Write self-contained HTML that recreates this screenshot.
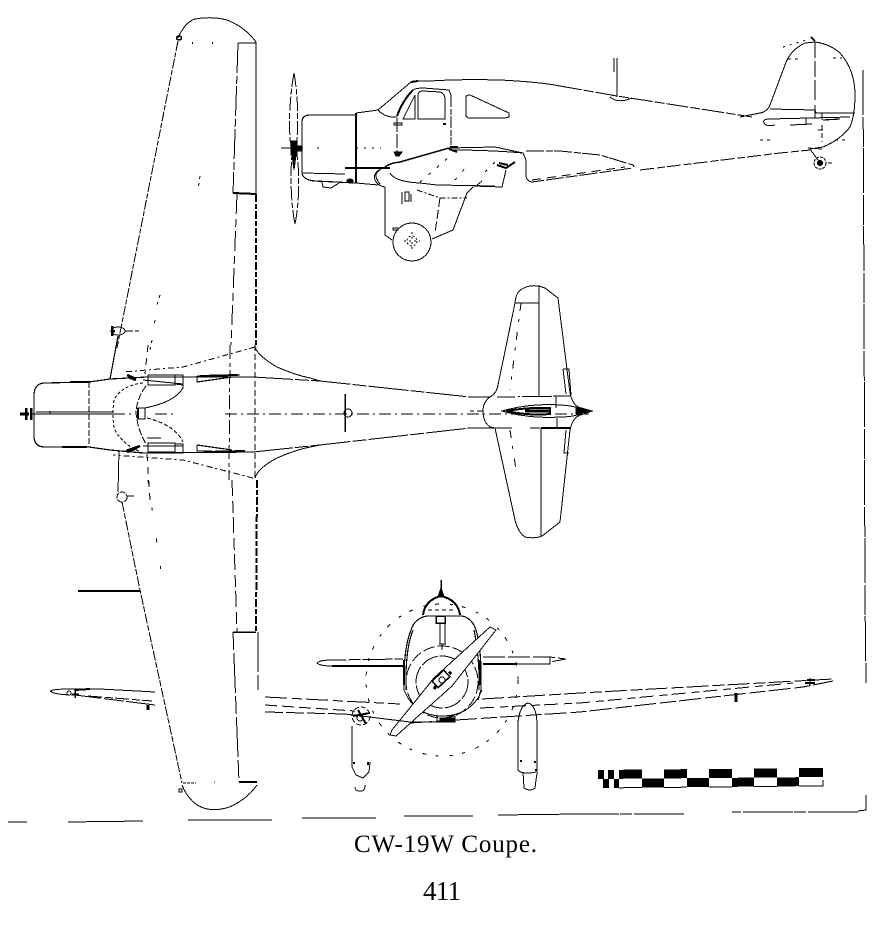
<!DOCTYPE html>
<html><head><meta charset="utf-8"><style>
html,body{margin:0;padding:0;background:#fff;width:876px;height:928px;overflow:hidden}
svg{display:block}
path,line,circle,ellipse,polygon,rect{shape-rendering:crispEdges}
text{font-family:"Liberation Serif",serif;fill:#000}
</style></head><body>
<svg width="876" height="928" viewBox="0 0 876 928" xmlns="http://www.w3.org/2000/svg">
<rect width="876" height="928" fill="#fff"/>
<g fill="none" stroke="#000" stroke-width="1">

<!-- frame -->
<path d="M863 70L864 300L865 600L866 683" stroke-dasharray="45 2 30 1"/>
<path d="M866 795L866 810L858 811"/>
<path d="M858 812L732 812M684 814L580 814" stroke-dasharray="50 2 12 1"/>
<path d="M8 822L27 822M68 822L143 821M188 820L272 820M302 818L376 818M404 816L473 816M498 815L580 814"/>

<!-- SIDE VIEW: propeller -->
<path d="M294 73C290 95 288 125 291 148M294 73C298 95 299 125 296 148M295 224C291 205 290 175 292 155M295 224C299 205 300 175 297 155" stroke-dasharray="14 2 6 2"/>
<path d="M281 148L303 148" stroke-width="1"/>
<rect x="291" y="141" width="6" height="14" fill="#000"/>
<rect x="297" y="146" width="5" height="5" fill="#000"/>
<path d="M292 155L294 170L296 155" fill="#000"/>
<!-- cowl -->
<path d="M302 122Q302 115 310 115L356 115M302 122L302 173Q303 180 315 181L356 183" stroke-width="1.2"/>
<path d="M356 113L356 183" stroke-width="2"/>
<path d="M303 173L345 174"/>
<path d="M322 182L323 187L331 188L339 183"/>
<path d="M345 168L390 168" stroke-width="2"/>
<ellipse cx="350" cy="181" rx="3" ry="2" fill="#000"/>
<path d="M356 183L378 185"/>
<path d="M317 148h2M356 148h25" stroke-dasharray="2 6"/>
<!-- fuselage top -->
<path d="M356 113L378 110L411 82Q415 81 430 81Q460 79 500 80Q540 82 560 86" />
<path d="M411 82L418 81" stroke-width="2"/>
<path d="M560 86L617 96L752 117" stroke-dasharray="22 2 10 2"/>
<!-- windscreen -->
<path d="M378 110Q385 118 397 117"/>
<path d="M397 116Q403 100 413 90" stroke-width="2"/>
<path d="M413 90Q416 88 423 88L449 90L451 95"/>
<path d="M451 95L451 145" stroke-dasharray="12 2 6 1"/>
<path d="M397 118L397 152" stroke-dasharray="14 2"/>
<path d="M394 123h8v2h-8z"/>
<path d="M394 152h8l-3 4h-3z" fill="#000"/>
<path d="M403 119L415 95L415 119Z"/>
<path d="M418 119L418 94Q419 91 423 91L440 92Q444 93 445 98L445 119Z"/>
<path d="M466 97Q466 95 470 95L509 113L509 117L505 118L470 118Q466 118 466 115Z"/>
<path d="M443 124h3" stroke-width="2"/>
<!-- wing root in side view -->
<path d="M385 167Q390 163 400 162L449 148" stroke-width="1.5"/>
<path d="M449 148L495 147L523 153L526 160L526 175Q526 181 532 182" />
<path d="M450 147l8 0M449 149l8 3" stroke-width="2"/>
<path d="M452 150Q490 150 523 153"/>
<path d="M526 151L560 151L600 155L633 165L635 168" stroke-dasharray="18 2 7 1"/>
<path d="M532 182L633 168" stroke-dasharray="12 2 18 2"/>
<path d="M532 180L625 167" stroke-dasharray="9 6"/>
<path d="M640 170L780 153L810 150" stroke-dasharray="14 3 8 2"/>
<path d="M497 165L506 168L515 162M499 163L508 165" stroke-width="2"/>
<path d="M385 167Q372 172 375 180Q378 186 385 187"/>
<path d="M380 170Q372 174 380 184"/>
<path d="M390 173Q395 182 420 183L437 185" />
<path d="M437 185L495 186" stroke-width="1"/>
<path d="M477 185L482 181M473 186L502 187L506 170" />
<path d="M420 182L449 157M455 180L468 165M485 172L495 162" stroke-dasharray="3 8"/>
<!-- wheel pant, side -->
<path d="M385 187L385 235L392 240"/>
<circle cx="412" cy="242" r="19"/>
<path d="M432 239L453 230L467 193L473 187"/>
<path d="M417 190L440 198L467 198" stroke-dasharray="6 2 2 2"/>
<path d="M440 198L435 233" stroke-dasharray="9 3"/>
<path d="M402 192v12M405 192h4v9h-4zM411 194v8"/>
<path d="M393 228h5v2h-5z"/>
<circle cx="412" cy="241" r="5" stroke-dasharray="2 2"/>
<path d="M412 232v18M404 241h16" stroke-dasharray="2 3"/>

<!-- antenna -->
<path d="M614 58L614 72M617 58L617 97" stroke-width="1.2"/>
<path d="M610 97Q618 104 632 98"/>
<!-- fin -->
<path d="M740 117L760 113Q767 112 770 105L785 65Q790 50 805 43L815 42Q830 44 840 53Q855 70 855 95Q855 115 850 127Q840 140 823 147L810 149"/>
<path d="M783 47L810 39" stroke-dasharray="2 5"/>
<path d="M811 37L815 41" stroke-width="2"/>
<path d="M815 42L815 90M815 85v15M815 105V118" stroke-dasharray="16 3"/>
<path d="M770 109L815 110L816 113L855 113"/>
<path d="M764 123Q762 119 770 119L850 117"/>
<path d="M764 123Q766 127 775 125M790 125L812 124"/>
<path d="M806 118V124M822 113V120M823 120L840 119" stroke-width="1.2"/>
<path d="M818 130L825 130M822 125V142" stroke-dasharray="5 3"/>
<path d="M788 59h12M833 58H842M760 140h14M835 140h10" stroke-dasharray="3 4"/>
<path d="M810 149L820 163"/>
<path d="M808 148L822 149"/>
<circle cx="820" cy="163" r="6" stroke-dasharray="3 1"/>
<circle cx="820" cy="163" r="2.5" fill="#000"/>
<path d="M828 163h4" />

<!-- PLAN VIEW: wing top -->
<path d="M178 38Q185 22 195 19Q212 16 227 20Q245 27 256 42"/>
<ellipse cx="179" cy="38" rx="2.5" ry="2" stroke-width="1.5"/>
<path d="M178 41L117 348" stroke-dasharray="10 1.5 5 1.5"/>
<path d="M256 42L256 194"/>
<path d="M256 194L256 345" stroke-width="2" stroke-dasharray="8 2 5 2"/>
<path d="M238 43L256 43"/>
<path d="M238 43L233 193" stroke-dasharray="30 3 8 2"/>
<path d="M233 193L256 194" stroke-width="2"/>
<path d="M237 194L231 345" stroke-dasharray="20 5 8 4"/>
<ellipse cx="118" cy="331" rx="7" ry="4"/>
<path d="M112 326v10M111 331h4" stroke-width="2.5"/>
<path d="M125 331h14" stroke-dasharray="8 2"/>
<path d="M192 43h1M212 43h1" stroke-width="2"/>
<path d="M200 176L198 190M160 295L157 305M155 320l-1 7M152 340l-2 10" stroke-dasharray="3 4"/>
<path d="M118 336L110 379" stroke-width="1.2"/>

<!-- plan: wing bottom -->
<path d="M119 450L118 492"/>
<circle cx="122" cy="497" r="5" stroke-dasharray="6 1"/>
<path d="M127 496h7"/>
<path d="M122 502L140 590L182 783" stroke-dasharray="10 1.5 6 1.5"/>
<path d="M182 785Q190 805 207 809Q220 811 232 806Q248 798 257 785"/>
<rect x="179" y="789" width="3" height="3" stroke-width="1"/>
<path d="M183 783h13M214 782h1" stroke-dasharray="3 1"/>
<path d="M257 480L256 632" stroke-width="2" stroke-dasharray="8 2 5 2"/>
<path d="M258 632L258 690" stroke-dasharray="40 3"/>
<path d="M233 632L256 632" stroke-width="1.5"/>
<path d="M233 632L239 782" stroke-dasharray="18 3 40 3"/>
<path d="M239 782L257 782" stroke-width="2"/>
<path d="M232 480L237 632" stroke-dasharray="16 5 12 4"/>
<path d="M148 480L162 578" stroke-dasharray="4 24 3 28"/>
<path d="M78 591L140 591" stroke-width="2"/>

<!-- plan: cowl, fuselage -->
<path d="M34 396Q34 383 45 383L89 382L110 379L147 377L253 377" stroke-width="1.2"/>
<path d="M34 396L34 436Q34 447 45 447L89 447L110 450L143 453L253 452" stroke-width="1.2"/>
<path d="M70 382h20M62 447h25" stroke-width="2"/>
<path d="M89 382L89 447" stroke-dasharray="6 2"/>
<path d="M32 414L113 414M36 412L113 412" />
<path d="M20 414H29" stroke-width="3"/>
<path d="M26 408V420M31 408V420" stroke-width="2.5"/>
<path d="M113 414H135M155 414h22M225 414H590" stroke-dasharray="12 4 2 4"/>
<path d="M50 411v3"/>
<!-- root fillets -->
<path d="M255 347Q258 356 277 367Q295 375 310 378L320 381"/>
<path d="M255 478Q258 468 277 458Q295 450 310 447L320 445"/>
<path d="M255 347L183 367L123 372" stroke-dasharray="6 3 2 3"/>
<path d="M253 478L183 460L113 455" stroke-dasharray="6 3 2 3"/>
<path d="M253 377L320 381L470 397" stroke-dasharray="40 2 14 2"/>
<path d="M253 452L320 445L470 428" stroke-dasharray="40 2 14 2"/>
<path d="M230 345L229 480" stroke-dasharray="14 4 4 3"/>
<path d="M255 345L255 480" stroke-dasharray="6 3"/>
<path d="M148 345L145 374M147 454L150 500" stroke-dasharray="7 6"/>
<!-- canopy plan -->
<path d="M143 383Q122 385 114 400Q112 414 114 428Q122 445 143 453" stroke-dasharray="3 2"/>
<path d="M146 386Q137 398 136 412Q137 428 146 444" stroke-dasharray="7 2"/>
<path d="M145 408Q175 402 183 388L183 383" stroke-width="1"/>
<path d="M147 418Q175 425 183 442" stroke-dasharray="4 2"/>
<rect x="138" y="408" width="7" height="11"/>
<path d="M138 408V419" stroke-width="2"/>
<path d="M148 375H175V385H148Z"/>
<path d="M175 375H183V385L175 384"/>
<path d="M148 443H175V452H148Z"/>
<path d="M175 444L183 444V453H175"/>
<path d="M197 376L240 375M197 376V382L232 377" stroke-width="1.2"/>
<path d="M197 445V451L240 452M197 445L232 450" stroke-width="1.2"/>
<path d="M200 376L238 375" stroke-width="2"/>
<path d="M205 452L245 451" stroke-width="2"/>
<path d="M127 375l9 4M127 452l10 -4M128 377l8 3M126 451L140 446" stroke-width="2.5"/>
<path d="M143 380L183 384M143 446H183" />
<path d="M147 438h14"/>
<!-- plan mast -->
<circle cx="348" cy="413" r="4"/>
<path d="M345 394V432" stroke-width="1.5"/>

<!-- stabilizer plan -->
<path d="M470 397L490 397Q497 393 498 385L515 303Q516 292 522 289Q532 283 545 288L558 298L570 393Q572 403 578 407L592 411L578 416Q572 420 570 430L560 522L542 536Q535 539 525 537Q518 532 515 520L495 428L470 428"/>
<path d="M490 397Q483 402 483 411Q483 422 490 427L495 428"/>
<path d="M539 285L539 396M541 428L541 536"/>
<path d="M515 303H539"/>
<path d="M497 397L570 396" stroke-dasharray="18 3 2 2 30 1"/>
<path d="M541 428L570 428" stroke-width="2"/>
<path d="M495 428H512M530 428h10" />
<path d="M556 396V408M557 418V428"/>
<path d="M521 303L510 390M510 430L516 470" stroke-dasharray="8 8 3 10"/>
<path d="M563 369h6l2 26M563 369l3 25M566 430l-2 23h5" stroke-width="1"/>
<path d="M502 411Q530 403 560 405Q578 406 585 411Q578 417 560 417Q530 419 502 411Z"/>
<path d="M506 411Q530 407 550 408V414Q530 416 506 411Z" stroke-width="2"/>
<path d="M525 411h25" stroke-width="3"/>
<path d="M576 408L592 411L576 414Z" fill="#000"/>
<path d="M483 411H470" stroke-dasharray="6 3"/>

<!-- FRONT VIEW -->
<circle cx="442" cy="680" r="76" stroke-dasharray="4 11 3 9"/>
<path d="M441 580V597" stroke-width="1.5"/>
<path d="M438 597L441 588L444 597Z" fill="#000"/>
<path d="M423 615Q425 600 441 596Q458 600 460 615" stroke-width="2"/>
<path d="M428 610H456" stroke-dasharray="4 3"/>
<!-- fuselage oval -->
<path d="M404 690Q403 650 411 630Q415 618 427 616L462 616Q472 618 476 630Q482 650 481 690L478 700" stroke-width="1.2"/>
<path d="M406 690Q405 650 413 630M479 690Q480 660 474 630" stroke-width="1.2"/>
<path d="M404 660v25M480 660v25" stroke-width="2"/>
<path d="M404 690L408 698Q420 716 442 716Q466 716 478 698L482 690" />
<circle cx="442" cy="682" r="36" stroke-dasharray="12 3"/>
<circle cx="442" cy="682" r="26" stroke-dasharray="18 2"/>
<rect x="436" y="616" width="9" height="7" stroke-width="1.5"/>
<path d="M440 623V644M445 623V644M439 644h7M442 644v6" stroke-width="1.2"/>
<path d="M437 716h18v6H437Z" />
<path d="M440 718h14v4H440Z" fill="#000"/>
<!-- propeller -->
<polygon points="490,627 496,630 452,686 396,736 390,735 392,730 434,678" fill="#fff" stroke="#000"/>
<rect x="434" y="674" width="16" height="9" transform="rotate(-43 442 680)" fill="#fff" stroke-width="1.5"/>
<circle cx="442" cy="680" r="3"/>
<path d="M436 686l-2 3M449 674l2 -2" stroke-width="3"/>
<!-- tailplane front -->
<path d="M317 663Q320 660 332 660L403 659" stroke-dasharray="30 2 12 2"/>
<path d="M317 663Q320 666 332 666" />
<path d="M332 666L403 666" stroke-width="2"/>
<path d="M483 657L550 657L566 659L550 662" stroke-dasharray="22 3"/>
<path d="M483 664L517 664" stroke-width="2"/>
<path d="M517 664H550V657" />
<!-- wing, right -->
<path d="M482 699L580 693L833 679" stroke-dasharray="22 4 12 3"/>
<path d="M480 708L580 703L793 683" stroke-dasharray="14 6 8 4"/>
<path d="M410 723L580 712L803 687L833 681" stroke-dasharray="22 4 16 3"/>
<path d="M807 680H815M805 683H815" stroke-width="2"/>
<path d="M810 678v8"/>
<path d="M736 693v9" stroke-width="3"/>
<!-- wing, left -->
<path d="M50 691Q55 688 100 689L155 692"/>
<path d="M50 691Q55 695 75 695L155 705" stroke-dasharray="20 2 30 3"/>
<path d="M75 690L90 689" stroke-width="2"/>
<path d="M88 696L152 701" stroke-dasharray="14 3 8 2"/>
<circle cx="69" cy="693" r="2"/>
<path d="M75 689V698M72 694H79" stroke-width="1.5"/>
<path d="M148 705V710" stroke-width="3"/>
<path d="M265 697L400 704" stroke-dasharray="22 5 10 4"/>
<path d="M265 705L355 711" stroke-dasharray="12 5"/>
<path d="M265 712L345 714" stroke-dasharray="18 3"/>
<path d="M345 714L410 722L455 722"/>
<!-- wheel pant left -->
<circle cx="361" cy="716" r="9" stroke-dasharray="5 2"/>
<path d="M353 716L370 713M358 710L366 724" stroke-width="2"/>
<circle cx="360" cy="718" r="3"/>
<path d="M352 726V767L356 775L363 778L369 772L370 762" />
<path d="M353 763h2M368 762v3" stroke-width="2"/>
<path d="M355 787Q355 792 362 791Q365 790 365 785"/>
<!-- wheel pant right -->
<path d="M518 770V722Q520 705 528 703Q536 705 537 722V770Q537 775 536 780L535 788Q530 792 524 788L523 772"/>
<path d="M518 770Q522 775 536 772" />
<path d="M520 761h2M534 762h2M535 770h2" stroke-width="2"/>

</g>

<!-- SCALE BAR -->
<g transform="rotate(-0.5 710 778)">
<g fill="#000">
<rect x="598" y="769" width="6" height="9"/><rect x="608" y="769" width="6" height="9"/>
<rect x="619" y="769" width="23" height="9"/><rect x="664" y="769" width="23" height="9"/>
<rect x="709" y="769" width="23" height="9"/><rect x="754" y="769" width="23" height="9"/>
<rect x="799" y="769" width="24" height="9"/>
<rect x="603" y="778" width="6" height="9"/><rect x="614" y="778" width="5" height="9"/>
<rect x="642" y="778" width="22" height="9"/><rect x="687" y="778" width="22" height="9"/>
<rect x="732" y="778" width="22" height="9"/><rect x="777" y="778" width="22" height="9"/>
</g>
<path d="M619 787h23M664 787h23M709 787h23M754 787h23M799 787h24V781" fill="none" stroke="#000" stroke-width="1" shape-rendering="crispEdges"/>
</g>

<text x="354" y="852" font-size="25" textLength="183" lengthAdjust="spacing">CW-19W Coupe.</text>
<text x="423" y="900" font-size="27" textLength="38" lengthAdjust="spacing">411</text>
</svg>
</body></html>
